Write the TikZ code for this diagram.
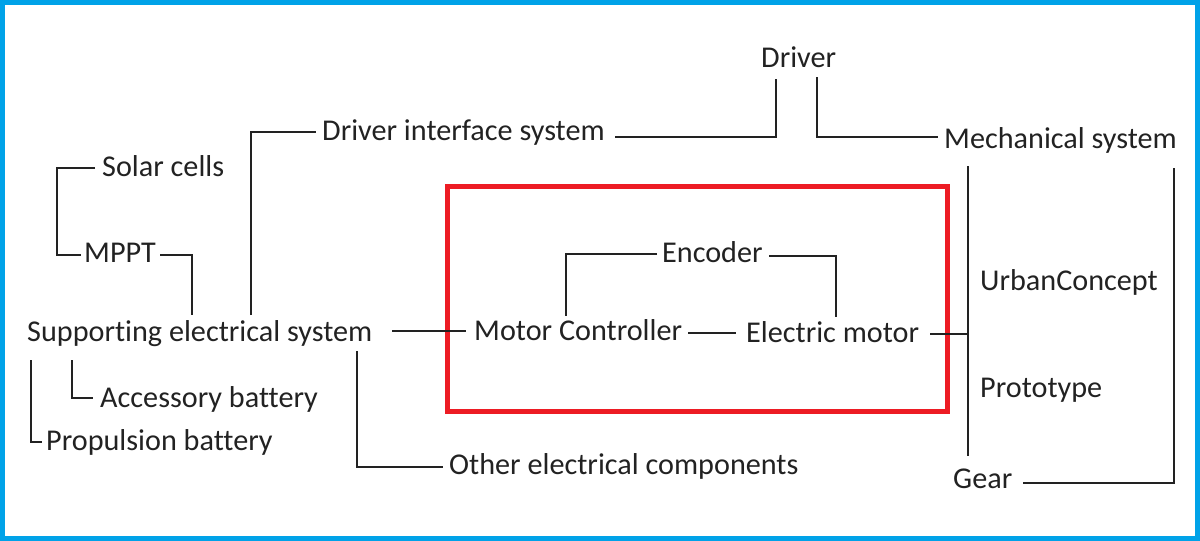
\documentclass[tikz,border=0pt]{standalone}
\usepackage{fontspec}
\setmainfont{Carlito}[Ligatures=NoCommon]
\definecolor{frameblue}{RGB}{0,162,232}
\definecolor{boxred}{RGB}{237,28,36}
\definecolor{ink}{RGB}{34,34,34}
\begin{document}
\begin{tikzpicture}[x=1pt,y=-1pt,
  lbl/.style={anchor=base west,inner sep=0pt,font=\fontsize{30.2}{36}\selectfont,text=ink},
  conn/.style={draw=ink,line width=1.6pt}]
\useasboundingbox (0,0) rectangle (1200,541);
\draw[line width=5pt,draw=frameblue] (2.5,2.5) rectangle (1197.5,538.5);
\draw[line width=5pt,draw=boxred] (447.5,186.5) rectangle (947.5,411.5);

\node[lbl] (drv) at (761,67) {Driver};
\node[lbl] (dis) at (322,140) {Driver interface system};
\node[lbl] (mech) at (944,148) {Mechanical system};
\node[lbl] (sol) at (102,176) {Solar cells};
\node[lbl] (mppt) at (84,262) {MPPT};
\node[lbl] (enc) at (662,262) {Encoder};
\node[lbl] (urb) at (980,290) {UrbanConcept};
\node[lbl] (ses) at (27,341) {Supporting electrical system};
\node[lbl] (mc) at (474,340) {Motor Controller};
\node[lbl] (em) at (746,342) {Electric motor};
\node[lbl] (proto) at (980,397) {Prototype};
\node[lbl] (acc) at (100,407) {Accessory battery};
\node[lbl] (prop) at (46,450) {Propulsion battery};
\node[lbl] (oth) at (449,474) {Other electrical components};
\node[lbl] (gear) at (953,488) {Gear};

% connector end points
\coordinate (solE) at (95,168);
\coordinate (mpptW) at (81,255);
\coordinate (mpptE) at (160,255);
\coordinate (sesA) at (192,315);
\coordinate (sesB) at (251,315);
\coordinate (disW) at (316,132);
\coordinate (disE) at (615,137);
\coordinate (drvL) at (776,79);
\coordinate (drvR) at (817,77);
\coordinate (mechW) at (938,137);
\coordinate (sesC) at (72,360);
\coordinate (accW) at (93,398);
\coordinate (sesD) at (31,360);
\coordinate (propW) at (42,442);
\coordinate (sesE) at (357,351);
\coordinate (othW) at (443,467);
\coordinate (sesR) at (392,331);
\coordinate (mcW) at (466,331);
\coordinate (mcE) at (688,333);
\coordinate (emW) at (736,333);
\coordinate (encW) at (657,254);
\coordinate (mcN) at (566,316);
\coordinate (encE) at (769,256);
\coordinate (emN) at (836,317);
\coordinate (emE) at (930,334);
\coordinate (busT) at (968,166);
\coordinate (busB) at (968,456);
\coordinate (busM) at (968,334);
\coordinate (mechR) at (1174,168);
\coordinate (gearE) at (1023,483);

\draw[conn] (solE) -- (57,168) |- (mpptW);
\draw[conn] (mpptE) -| (sesA);
\draw[conn] (sesB) |- (disW);
\draw[conn] (disE) -| (drvL);
\draw[conn] (drvR) |- (mechW);
\draw[conn] (sesC) |- (accW);
\draw[conn] (sesD) |- (propW);
\draw[conn] (sesE) |- (othW);
\draw[conn] (sesR) -- (mcW);
\draw[conn] (mcE) -- (emW);
\draw[conn] (encW) -| (mcN);
\draw[conn] (encE) -| (emN);
\draw[conn] (emE) -- (busM);
\draw[conn] (busT) -- (busB);
\draw[conn] (mechR) |- (gearE);
\end{tikzpicture}
\end{document}
